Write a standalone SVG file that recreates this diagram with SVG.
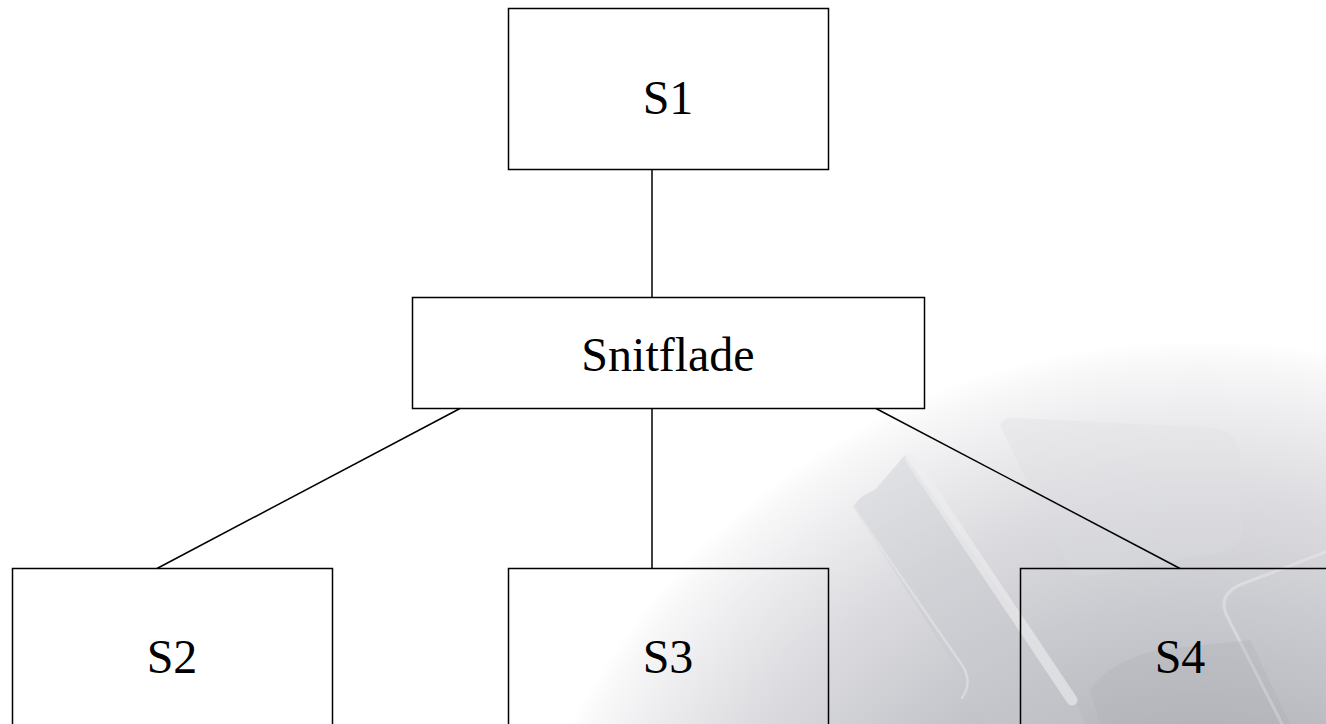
<svg xmlns="http://www.w3.org/2000/svg" width="1326" height="724" viewBox="0 0 1326 724">
  <style>
    .box { fill: none; stroke: #000000; stroke-width: 1.5; }
    .lbl { font-family: "Liberation Serif", "Times New Roman", Times, serif; font-size: 48px; fill: #000000; stroke: none; text-anchor: middle; }
    .conn line { stroke: #000000; stroke-width: 1.5; }
    .keyedge { fill: none; stroke: #eeeef0; stroke-linecap: round; stroke-linejoin: round; }
  </style>
  <defs>
    <radialGradient id="blob" cx="1200" cy="1050" r="710" gradientUnits="userSpaceOnUse">
      <stop offset="0" stop-color="#a8a9b1"/>
      <stop offset="0.45" stop-color="#b7b8be"/>
      <stop offset="0.62" stop-color="#c9cacf"/>
      <stop offset="0.78" stop-color="#dcdce0"/>
      <stop offset="0.9" stop-color="#ededef"/>
      <stop offset="0.97" stop-color="#f8f8f9"/>
      <stop offset="1" stop-color="#ffffff"/>
    </radialGradient>
    <linearGradient id="keyB" x1="0" y1="0" x2="0" y2="1">
      <stop offset="0" stop-color="#e4e4e7"/>
      <stop offset="1" stop-color="#d6d7db"/>
    </linearGradient>
  </defs>

  <g id="background">
    <rect x="0" y="0" width="1326" height="724" fill="#ffffff"/>
    <circle cx="1200" cy="1050" r="710" fill="url(#blob)"/>
    <path d="M853,507 Q860,495 875,490 L905,455 L1075,700 L1085,724 L985,724 L964,680 Z" fill="#c6c7cc" opacity="0.4"/>
    <path d="M1000,425 Q1005,415 1020,418 L1215,428 Q1238,432 1240,455 L1242,530 Q1240,548 1222,552 L1090,576 Q1072,578 1066,562 Z" fill="url(#keyB)" opacity="0.5"/>
    <path class="keyedge" d="M910,458 L1072,700" stroke-width="11" opacity="0.6"/>
    <path class="keyedge" d="M853,507 L964,668 Q972,684 962,698" stroke-width="2.5" opacity="0.45"/>
    <path class="keyedge" d="M1326,552 L1242,584 Q1218,594 1226,614 L1282,724" stroke-width="3" opacity="0.45"/>
    <path d="M1100,724 L1090,690 Q1110,660 1160,650 L1250,640 L1290,724 Z" fill="#a9aab1" opacity="0.25"/>
  </g>

  <g id="connectors" class="conn">
    <line x1="652" y1="169.5" x2="652" y2="297.5"/>
    <line x1="460" y1="408.5" x2="157" y2="568.5"/>
    <line x1="652" y1="408.5" x2="652" y2="568.5"/>
    <line x1="876" y1="408.5" x2="1180" y2="568.5"/>
  </g>

  <g id="S1">
    <rect class="box" x="508.5" y="8.5" width="320" height="161"/>
    <text class="lbl" x="668" y="114">S1</text>
  </g>
  <g id="Snitflade">
    <rect class="box" x="412.5" y="297.5" width="512" height="111"/>
    <text class="lbl" x="668" y="371">Snitflade</text>
  </g>
  <g id="S2">
    <rect class="box" x="12.5" y="568.5" width="320" height="200"/>
    <text class="lbl" x="172" y="673">S2</text>
  </g>
  <g id="S3">
    <rect class="box" x="508.5" y="568.5" width="320" height="200"/>
    <text class="lbl" x="668" y="673">S3</text>
  </g>
  <g id="S4">
    <rect class="box" x="1020.5" y="568.5" width="320" height="200"/>
    <text class="lbl" x="1180" y="673">S4</text>
  </g>
</svg>
